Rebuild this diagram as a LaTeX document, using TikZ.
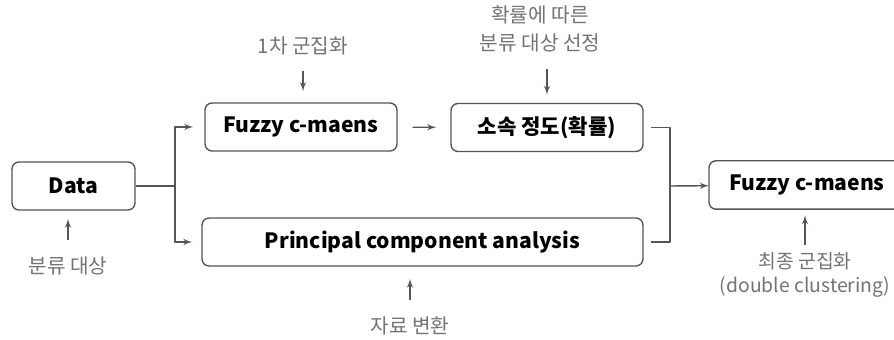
\documentclass[tikz,border=0pt]{standalone}
\usepackage{fontspec}
\setmainfont{Noto Sans CJK KR}
\usepackage{tikz}
\usetikzlibrary{arrows, positioning, calc}
\definecolor{notegray}{RGB}{115,115,115}
\definecolor{linegray}{RGB}{85,85,85}

\begin{document}
\begin{tikzpicture}[>=latex', x=0.02cm, y=-0.02cm, line join=bevel,
        box/.style={draw=linegray, rounded corners=4pt, line width=0.8pt, minimum height=0.96cm,
                inner sep=0pt, font=\bfseries\fontsize{12}{14}\selectfont},
        note/.style={text=notegray, align=center, inner sep=1pt, font=\fontsize{11.5}{16}\selectfont},
        link/.style={draw=linegray, line width=0.8pt}]
        \useasboundingbox (0,0) rectangle (894,340);
        \node[box, minimum width=2.46cm] (data) at (73.5,186) {Data};
        \node[box, minimum width=3.84cm] (fcm) at (301,127) {Fuzzy c-maens};
        \node[box, minimum width=3.84cm] (memb) at (547,127.5) {소속 정도(확률)};
        \node[box, minimum width=8.82cm] (pca) at (422.5,242) {Principal component analysis};
        \node[box, draw=none, anchor=west, minimum height=0.94cm, minimum width=3.9cm, inner xsep=0.28cm]
                (final) at (709,185) {Fuzzy c-maens};
        \draw[link, rounded corners=4pt] ([xshift=1cm]final.north east) -- (final.north west)
                -- (final.south west) -- ([xshift=1cm]final.south east);
        \node[note] (target) at (68,266) {분류 대상};
        \node[note] (first) at (303,46) {1차 군집화};
        \node[note] (select) at (540,29) {확률에 따른\\분류 대상 선정};
        \node[note, font=\fontsize{11}{13.5}\selectfont] (last) at (805,275) {최종 군집화\\(double clustering)};
        \node[note] (trans) at (410,326) {자료 변환};
        \coordinate (split) at (175,186);
        \coordinate (join) at (670,186);
        \draw[link] (data) -- (split);
        \draw[link, ->, shorten >=0.22cm] (split) |- (fcm);
        \draw[link, ->, shorten >=0.18cm] (split) |- (pca);
        \draw[link, ->, shorten <=0.3cm, shorten >=0.28cm] (fcm) -- (memb);
        \draw[link, shorten <=0.14cm] (memb.east) -| (join);
        \draw[link, shorten <=0.14cm] (pca.east) -| (join);
        \draw[link, ->] (join) -- (final);
        \draw[link, ->, shorten <=0.28cm, shorten >=0.22cm] (first) -- (first |- fcm.north);
        \draw[link, ->, shorten <=0.3cm, shorten >=0.16cm] (select.south -| memb) -- (memb.north);
        \draw[link, ->, shorten <=0.3cm, shorten >=0.16cm] (target) -- (target |- data.south);
        \draw[link, ->, shorten <=0.3cm, shorten >=0.24cm] (trans) -- (trans |- pca.south);
        \draw[link, ->, shorten <=0.12cm, shorten >=0.12cm] (last.north) -- (last.north |- final.south);
\end{tikzpicture}
\end{document}
